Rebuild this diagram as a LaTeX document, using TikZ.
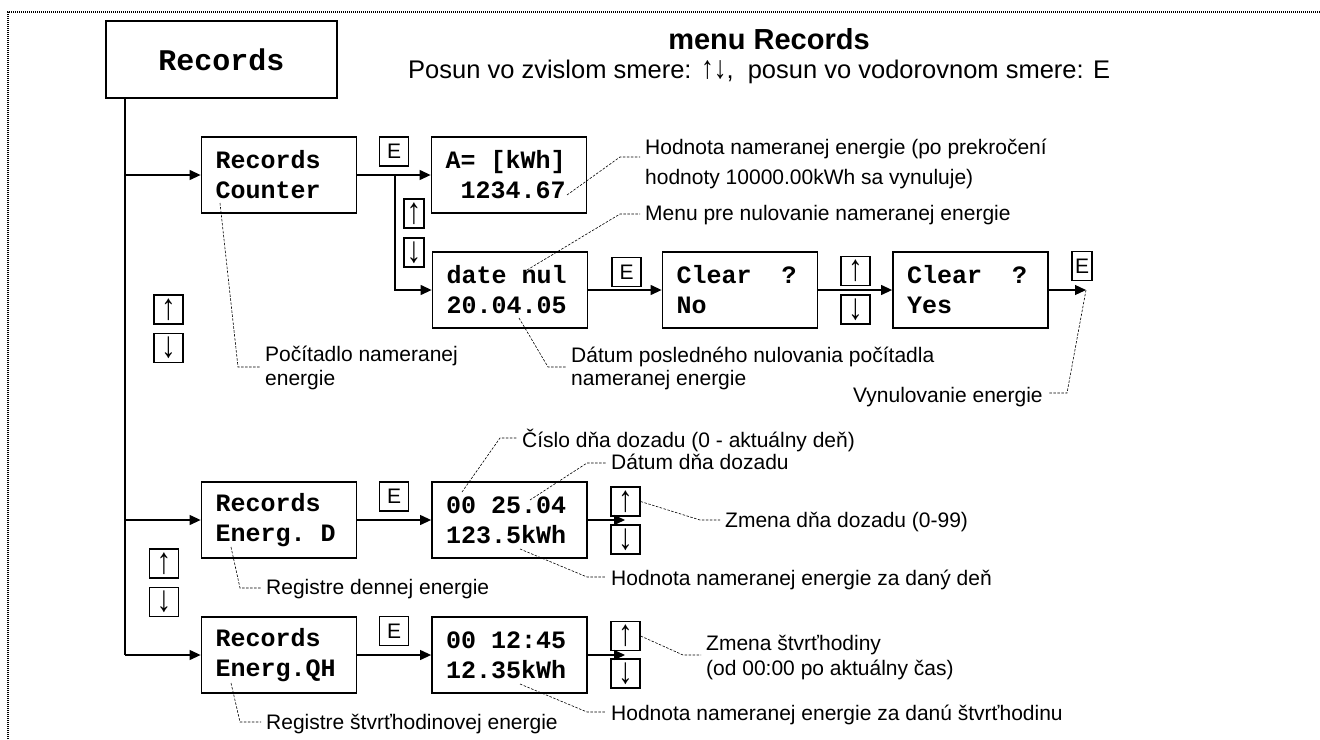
\documentclass[tikz,border=0pt]{standalone}
\usepackage{fontspec}
\usepackage{graphicx}
\setmainfont{Liberation Sans}
\newfontfamily\lcdfont{Liberation Mono}
\usetikzlibrary{arrows.meta}
% one monospaced character cell
\newcommand\cell{\hphantom{0}}
\newcommand\upkey{\scalebox{1.4}[1.75]{↑}}
\newcommand\downkey{\scalebox{1.4}[1.75]{↓}}

\begin{document}
\begin{tikzpicture}[x=1pt,y=-1pt,
  hdr/.style={draw, line width=1.2pt, minimum width=231pt, minimum height=77pt,
    inner sep=0pt, font=\lcdfont\bfseries\fontsize{30}{30}\selectfont},
  lcd/.style={draw, line width=1.8pt, minimum width=155pt, minimum height=76pt,
    inner xsep=14pt, inner ysep=0pt, text width=127pt, align=left,
    font=\lcdfont\bfseries\fontsize{25}{30}\selectfont},
  key/.style={draw, line width=1.3pt, minimum width=29pt, minimum height=29pt,
    inner sep=0pt, font=\fontsize{21}{21}\selectfont},
  slimkey/.style={key, minimum width=20pt},
  flow/.style={line width=1.2pt},
  arr/.style={flow, -{Triangle[length=11pt,width=10pt]}},
  lead/.style={line width=0.6pt, dash pattern=on 2.5pt off 1.5pt},
  note/.style={anchor=base west, inner xsep=5pt, inner ysep=0pt,
    font=\fontsize{21}{21}\selectfont},
]
\useasboundingbox (0,0) rectangle (1320,739);

% sheet frame
\draw[line width=1.2pt, dash pattern=on 1pt off 1pt] (8,739) -- (8,12) -- (1320,12);

% heading
\node[anchor=base, inner sep=0pt, font=\bfseries\fontsize{29}{29}\selectfont]
  (title) at (769,49) {menu Records};
\node[anchor=base west, inner sep=0pt, font=\fontsize{25.5}{25.5}\selectfont]
  (sub) at (408,78) {Posun vo zvislom smere: \scalebox{1}[1.25]{↑↓},\ \ posun vo vodorovnom smere: E};

% display screens
\node[hdr] (rec) at (221.5,59.5) {Records};
\node[lcd] (cnt)    at (279,175)   {Records\\Counter};
\node[lcd] (akwh)   at (509,175)   {A=\cell[kWh]\\\cell1234.67};
\node[lcd] (dnul)   at (510,290)   {date\cell nul\\20.04.05};
\node[lcd] (clrno)  at (740,290)   {Clear\cell\cell?\\No};
\node[lcd] (clryes) at (970.5,290) {Clear\cell\cell?\\Yes};
\node[lcd] (recd)   at (279,520)   {Records\\Energ.\cell D};
\node[lcd] (dval)   at (509.5,520) {00\cell 25.04\\123.5kWh};
\node[lcd] (recqh)  at (279,655)   {Records\\Energ.QH};
\node[lcd] (qval)   at (509.5,655) {00\cell 12:45\\12.35kWh};

% keys
\node[key]     (e1)  at (394,151.5)   {E};
\node[slimkey] (u1)  at (414,213.5)   {\upkey};
\node[slimkey] (d1)  at (414,252.5)   {\downkey};
\node[key]     (e2)  at (626.5,272)   {E};
\node[key]     (u2)  at (855.5,271)   {\upkey};
\node[key]     (d2)  at (855.5,309.5) {\downkey};
\node[slimkey] (e3)  at (1082,266)    {E};
\node[key]     (lu1) at (168.5,309.5) {\upkey};
\node[key]     (ld1) at (168.5,348)   {\downkey};
\node[key]     (e4)  at (394,496.5)   {E};
\node[key]     (u4)  at (625.5,501.5) {\upkey};
\node[key]     (d4)  at (625.5,539.5) {\downkey};
\node[key]     (lu2) at (164,563.5)   {\upkey};
\node[key]     (ld2) at (164,602)     {\downkey};
\node[key]     (e5)  at (394,631)     {E};
\node[key]     (u5)  at (625.5,636)   {\upkey};
\node[key]     (d5)  at (625.5,673.5) {\downkey};

% menu flow
\coordinate (trunk) at (125,0);
\coordinate (branch) at (395,0);
\coordinate (reset) at (1086,290);
\coordinate (dstep) at (625,520);
\coordinate (qstep) at (625,655);

\draw[flow] (rec.south -| trunk) -- (recqh.west -| trunk);
\draw[arr] (cnt.west -| trunk) -- (cnt.west);
\draw[arr] (recd.west -| trunk) -- (recd.west);
\draw[arr] (recqh.west -| trunk) -- (recqh.west);
\draw[arr] (cnt.east) -- (akwh.west);
\draw[arr] (cnt.east -| branch) |- (dnul.west);
\draw[arr] (dnul.east) -- (clrno.west);
\draw[arr] (clrno.east) -- (clryes.west);
\draw[arr] (clryes.east) -- (reset);
\draw[arr] (recd.east) -- (dval.west);
\draw[arr] (dval.east) -- (dstep);
\draw[arr] (recqh.east) -- (qval.west);
\draw[arr] (qval.east) -- (qstep);

% explanatory notes
\node[note] (nhod1) at (640,154) {Hodnota nameranej energie (po prekročení};
\node[note] (nhod2) at (640,184) {hodnoty 10000.00kWh sa vynuluje)};
\node[note] (nmenu) at (640,220) {Menu pre nulovanie nameranej energie};
\node[note] (npoc1) at (260,361) {Počítadlo nameranej};
\node[note] (npoc2) at (260,385) {energie};
\node[note] (ndat1) at (566,362) {Dátum posledného nulovania počítadla};
\node[note] (ndat2) at (566,385) {nameranej energie};
\node[note] (nvyn)  at (848,402) {Vynulovanie energie};
\node[note] (ncis)  at (517,447) {Číslo dňa dozadu (0 - aktuálny deň)};
\node[note] (ndd)   at (606,469) {Dátum dňa dozadu};
\node[note] (nzd)   at (720,527) {Zmena dňa dozadu (0-99)};
\node[note] (nhd)   at (606,585) {Hodnota nameranej energie za daný deň};
\node[note] (nrd)   at (261,594) {Registre dennej energie};
\node[note] (nzq1)  at (701,650) {Zmena štvrťhodiny};
\node[note] (nzq2)  at (701,675) {(od 00:00 po aktuálny čas)};
\node[note] (nhq)   at (606,720) {Hodnota nameranej energie za danú štvrťhodinu};
\node[note] (nrq)   at (261,729) {Registre štvrťhodinovej energie};

% leader lines
\draw[lead] (567,195) -- (620,157) -- (620,157 -| nhod1.west);
\draw[lead] (527,270) -- (620,214) -- (620,214 -| nmenu.west);
\draw[lead] (220,203) -- (238,367) -- (238,367 -| npoc1.west);
\draw[lead] (519,318) -- (548,367) -- (548,367 -| ndat1.west);
\draw[lead] (reset) -- (1067,393) -- (1067,393 -| nvyn.east);
\draw[lead] (462,492) -- (500,438) -- (500,438 -| ncis.west);
\draw[lead] (530,500) -- (587,463) -- (587,463 -| ndd.west);
\draw[lead] (u4.east) -- (700,520) -- (700,520 -| nzd.west);
\draw[lead] (520,549) -- (587,577) -- (587,577 -| nhd.west);
\draw[lead] (231,547) -- (240,588) -- (240,588 -| nrd.west);
\draw[lead] (u5.east) -- (683,655) -- (683,655 -| nzq1.west);
\draw[lead] (520,684) -- (587,712) -- (587,712 -| nhq.west);
\draw[lead] (231,683) -- (240,722) -- (240,722 -| nrq.west);
\end{tikzpicture}
\end{document}
